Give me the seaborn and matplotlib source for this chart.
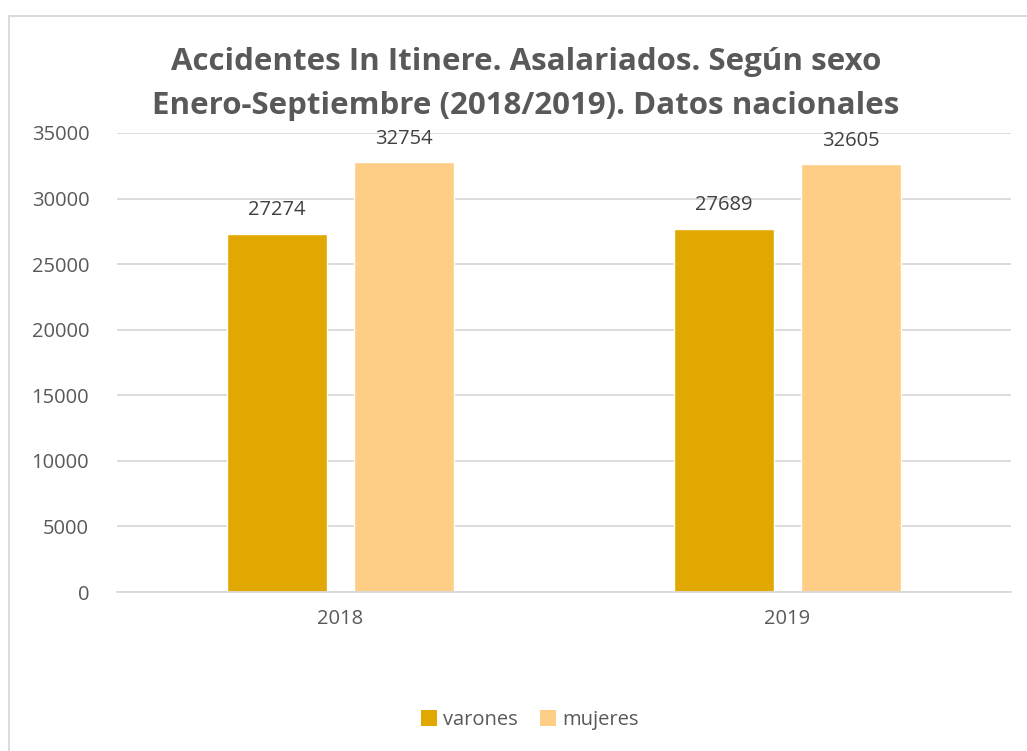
import pandas as pd
import matplotlib
matplotlib.use("Agg")
import matplotlib.pyplot as plt
import seaborn as sns
from matplotlib.lines import Line2D
from matplotlib.patches import Patch

# data
years = ["2018", "2019"]
sexes = ["varones", "mujeres"]
varones = [27274, 27689]
mujeres = [32754, 32605]
colors = ["#E0A800", "#FECE86"]

df = pd.DataFrame({
    "year": years * 2,
    "sexo": [sexes[0]] * len(years) + [sexes[1]] * len(years),
    "value": varones + mujeres,
})

sns.set_theme(style="white")
plt.rcParams["font.family"] = ["Open Sans", "DejaVu Sans"]

fig = plt.figure(figsize=(10.27, 7.51), dpi=100)
ax = fig.add_axes([117 / 1027, 1 - 592 / 751, (1011 - 117) / 1027, (592 - 133) / 751])

sns.barplot(data=df, x="year", y="value", hue="sexo", hue_order=sexes,
            palette=colors, width=0.568, gap=0.21, ax=ax, legend=False,
            saturation=1)

# value labels
for cont in ax.containers:
    ax.bar_label(cont, labels=[str(int(v)) for v in cont.datavalues],
                 padding=10, fontsize=14.5, color="#404040")

ax.set_ylim(0, 35000)
ax.set_xlim(-0.5, 1.5)
ax.set_yticks(range(0, 35001, 5000))
ax.yaxis.grid(True, color="#D9D9D9", linewidth=1.3)
ax.set_axisbelow(True)
for s in ["top", "right", "left"]:
    ax.spines[s].set_visible(False)
ax.spines["bottom"].set_color("#D9D9D9")
ax.spines["bottom"].set_linewidth(1.3)
ax.tick_params(axis="both", length=0, labelsize=14.5, labelcolor="#595959")
ax.tick_params(axis="y", pad=20)
ax.tick_params(axis="x", pad=12)
ax.set_xlabel("")
ax.set_ylabel("")

fig.text(526 / 1027, 1 - 62 / 751, "Accidentes In Itinere. Asalariados. Según sexo",
         ha="center", va="center", fontsize=22.5, fontweight="bold", color="#595959")
fig.text(526 / 1027, 1 - 106 / 751, "Enero-Septiembre (2018/2019). Datos nacionales",
         ha="center", va="center", fontsize=22.5, fontweight="bold", color="#595959")

handles = [Patch(facecolor=c, edgecolor="none") for c in colors]
fig.legend(handles, sexes, loc="center", bbox_to_anchor=(530 / 1027, 1 - 720 / 751),
           ncol=2, frameon=False, fontsize=14.5, labelcolor="#595959",
           handlelength=0.8, handleheight=0.8, handletextpad=0.3, columnspacing=1.1)

# chart border
fig.add_artist(Line2D([9 / 1027, 1], [1 - 16 / 751, 1 - 16 / 751],
                      transform=fig.transFigure, color="#D9D9D9", linewidth=1.3))
fig.add_artist(Line2D([9 / 1027, 9 / 1027], [0, 1 - 16 / 751],
                      transform=fig.transFigure, color="#D9D9D9", linewidth=1.3))

fig.savefig("out.png", dpi=100, facecolor="white")
